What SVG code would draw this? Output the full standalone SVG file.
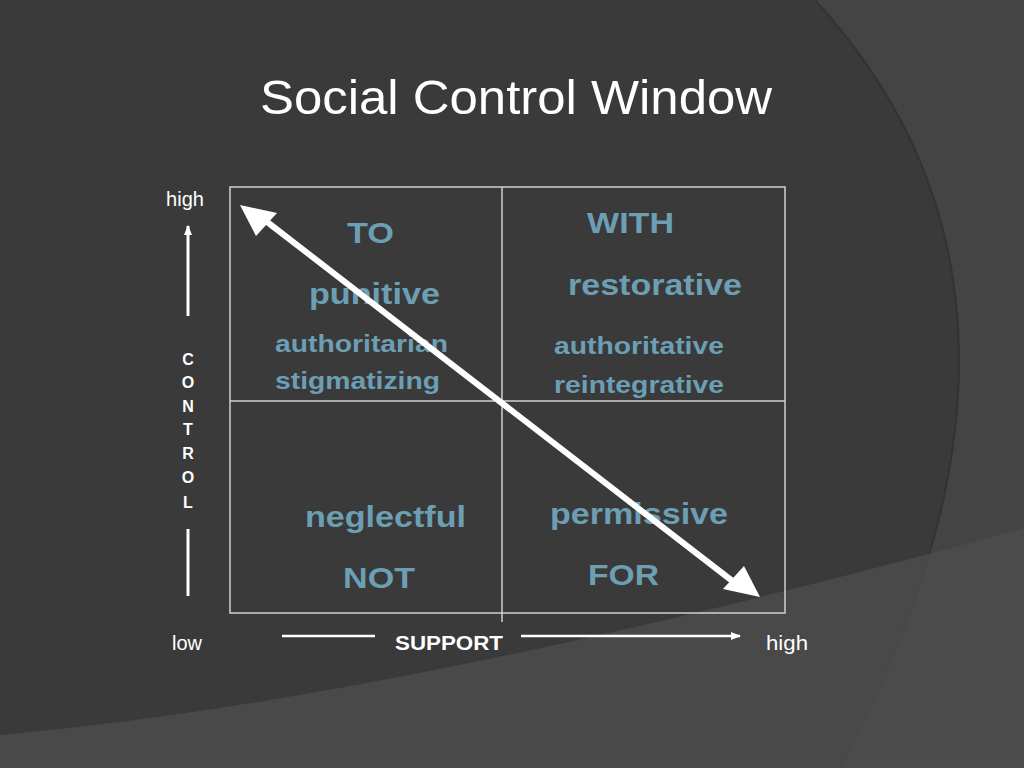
<svg xmlns="http://www.w3.org/2000/svg" width="1024" height="768" viewBox="0 0 1024 768">
<defs>
<style>
.w{font-family:"Liberation Sans",Arial,sans-serif;fill:#ffffff}
.t{font-family:"Liberation Sans",Arial,sans-serif;fill:#6c9fb3;font-weight:bold}
.ln{stroke:#d0d0d0;stroke-width:1.5;fill:none}
</style>
<marker id="ah" markerWidth="10" markerHeight="8" refX="9" refY="4" orient="auto" markerUnits="userSpaceOnUse"><path d="M0,0 L10,4 L0,8 Z" fill="#fff"/></marker>
</defs>
<rect width="1024" height="768" fill="#444444"/>
<path d="M0,0 H815 Q1090 300 840 768 H0 Z" fill="#3a3a3a"/>
<path d="M815,0 Q1090 300 840 768" fill="none" stroke="#333" stroke-width="2"/>
<path d="M0,735 Q400 700 1024 528 V768 H0 Z" fill="#4c4c4c" opacity="0.85"/>
<text class="w" x="260" y="114" font-size="48" textLength="512" lengthAdjust="spacingAndGlyphs">Social Control Window</text>
<g id="grid">
<rect class="ln" x="230" y="187" width="555" height="426"/>
<line class="ln" x1="502" y1="187" x2="502" y2="622"/>
<line class="ln" x1="230" y1="401" x2="785" y2="401"/>
</g>
<g id="axes">
<text class="w" x="185" y="206" font-size="20" text-anchor="middle">high</text>
<line x1="188" y1="316" x2="188" y2="226" stroke="#fff" stroke-width="3" marker-end="url(#ah)"/>
<line x1="188" y1="529" x2="188" y2="596" stroke="#fff" stroke-width="3"/>
<g class="w" font-size="16" font-weight="bold" text-anchor="middle">
<text x="188" y="365">C</text><text x="188" y="388">O</text><text x="188" y="412">N</text><text x="188" y="435">T</text><text x="188" y="459">R</text><text x="188" y="483">O</text><text x="188" y="508">L</text>
</g>
<text class="w" x="187" y="650" font-size="20" text-anchor="middle">low</text>
<line x1="282" y1="636" x2="375" y2="636" stroke="#fff" stroke-width="2.5"/>
<text class="w" x="395" y="650" font-size="20" font-weight="bold" textLength="108" lengthAdjust="spacingAndGlyphs">SUPPORT</text>
<line x1="521" y1="636" x2="740" y2="636" stroke="#fff" stroke-width="2.5" marker-end="url(#ah)"/>
<text class="w" x="766" y="650" font-size="20" textLength="42" lengthAdjust="spacingAndGlyphs">high</text>
</g>
<g id="q-to">
<text class="t" x="347" y="243" font-size="30" textLength="47" lengthAdjust="spacingAndGlyphs">TO</text>
<text class="t" x="309" y="304" font-size="30" textLength="131" lengthAdjust="spacingAndGlyphs">punitive</text>
<text class="t" x="275" y="352" font-size="24" textLength="173" lengthAdjust="spacingAndGlyphs">authoritarian</text>
<text class="t" x="275" y="389" font-size="24" textLength="165" lengthAdjust="spacingAndGlyphs">stigmatizing</text>
</g>
<g id="q-with">
<text class="t" x="587" y="233" font-size="30" textLength="87" lengthAdjust="spacingAndGlyphs">WITH</text>
<text class="t" x="568" y="295" font-size="30" textLength="174" lengthAdjust="spacingAndGlyphs">restorative</text>
<text class="t" x="554" y="354" font-size="24" textLength="170" lengthAdjust="spacingAndGlyphs">authoritative</text>
<text class="t" x="554" y="393" font-size="24" textLength="170" lengthAdjust="spacingAndGlyphs">reintegrative</text>
</g>
<g id="q-not">
<text class="t" x="305" y="527" font-size="30" textLength="161" lengthAdjust="spacingAndGlyphs">neglectful</text>
<text class="t" x="343" y="588" font-size="30" textLength="72" lengthAdjust="spacingAndGlyphs">NOT</text>
</g>
<g id="q-for">
<text class="t" x="550" y="524" font-size="30" textLength="178" lengthAdjust="spacingAndGlyphs">permissive</text>
<text class="t" x="588" y="585" font-size="30" textLength="71" lengthAdjust="spacingAndGlyphs">FOR</text>
</g>
<g id="connectors">
<line x1="262" y1="218" x2="735" y2="583" stroke="#fff" stroke-width="6"/>
<path d="M240,205 L277,213 L256,236 Z" fill="#fff"/>
<path d="M760,597 L723,589 L744,566 Z" fill="#fff"/>
</g>
</svg>
